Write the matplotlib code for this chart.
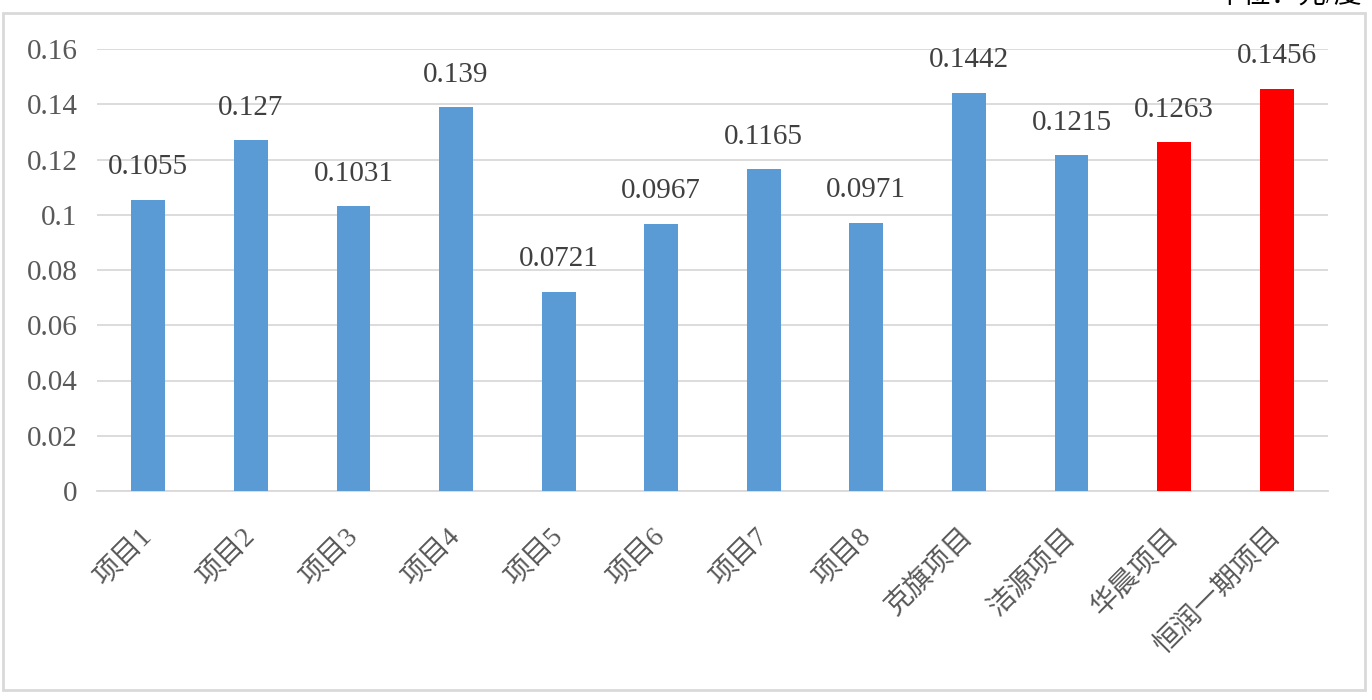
import matplotlib.pyplot as plt
from matplotlib.patches import Rectangle

# project names and values (元/度)
projects = ['项目1', '项目2', '项目3', '项目4', '项目5', '项目6', '项目7', '项目8',
            '克旗项目', '洁源项目', '华晨项目', '恒润一期项目']
values = [0.1055, 0.127, 0.1031, 0.139, 0.0721, 0.0967, 0.1165, 0.0971,
          0.1442, 0.1215, 0.1263, 0.1456]
labels = ['0.1055', '0.127', '0.1031', '0.139', '0.0721', '0.0967', '0.1165', '0.0971',
          '0.1442', '0.1215', '0.1263', '0.1456']
highlight = ['华晨项目', '恒润一期项目']

fonts = ['Liberation Serif', 'Noto Sans CJK SC', 'DejaVu Sans']
plt.rcParams['font.family'] = fonts

fig = plt.figure(figsize=(13.72, 7.0), dpi=100)
ax = fig.add_axes([97 / 1372, 1 - 491 / 700, 1231 / 1372, 442 / 700])

colors = ['#FF0000' if p in highlight else '#5B9BD5' for p in projects]
x = range(len(projects))
ax.bar(x, values, width=0.33, color=colors, zorder=3)

for i, (v, lab) in enumerate(zip(values, labels)):
    ax.annotate(lab, (i, v), xytext=(0, 14), textcoords='offset points',
                ha='center', va='bottom', fontsize=21, color='#404040')

ax.set_xlim(-0.5, len(projects) - 0.5)
ax.set_ylim(0, 0.16)
ax.set_yticks([0, 0.02, 0.04, 0.06, 0.08, 0.1, 0.12, 0.14, 0.16])
ax.set_yticklabels(['0', '0.02', '0.04', '0.06', '0.08', '0.1', '0.12', '0.14', '0.16'])
ax.set_xticks(list(x))
ax.set_xticklabels(projects, rotation=45, ha='right', va='center', rotation_mode='anchor')
ax.tick_params(axis='y', length=0, pad=14, labelsize=21, labelcolor='#595959')
ax.tick_params(axis='x', length=0, pad=30, labelsize=20, labelcolor='#595959')

ax.grid(axis='y', color='#D9D9D9', linewidth=1.3, zorder=0)
for s in ['top', 'right', 'left']:
    ax.spines[s].set_visible(False)
ax.spines['bottom'].set_color('#D9D9D9')
ax.spines['bottom'].set_linewidth(1.3)

# outer chart border
fig.patches.append(Rectangle((3 / 1372, 10 / 700), 1362 / 1372, 677 / 700,
                             transform=fig.transFigure, fill=False,
                             edgecolor='#D9D9D9', linewidth=2))

# unit note, cut off at the top edge like the source
fig.text(1362 / 1372, 1 - 10 / 700, '单位：元/度', ha='right', va='bottom',
         fontsize=20, color='#000000')

fig.savefig('out.png', dpi=100)
